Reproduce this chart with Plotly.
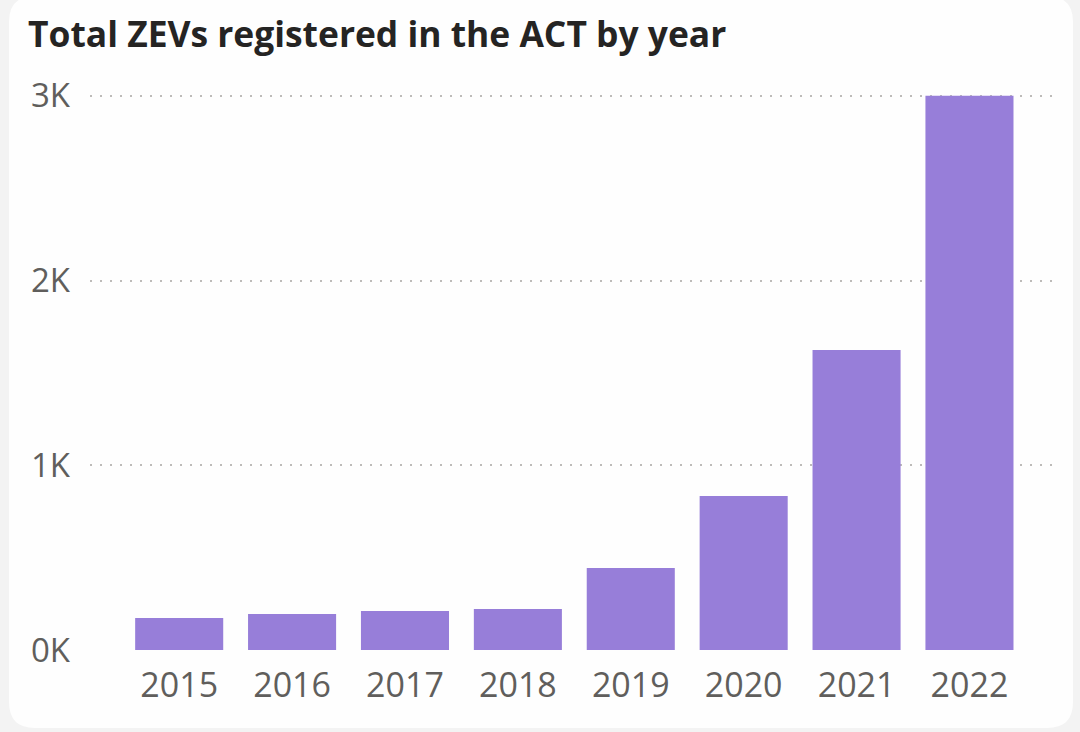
import plotly.graph_objects as go

years = ["2015", "2016", "2017", "2018", "2019", "2020", "2021", "2022"]
zevs = [173, 195, 211, 222, 444, 834, 1624, 3000]
y_ticks = [0, 1000, 2000, 3000]
y_tick_labels = ["0K", "1K", "2K", "3K"]

W, H = 1080, 732
L, R, T, B = 90, 27, 94, 82
pw, ph = W - L - R, H - T - B

def px(x):
    return (x - L) / pw

def py(y):
    return (H - B - y) / ph

def card_path(x0, y0, x1, y1, r):
    pts = []
    pts.append(f"M {px(x0 + r)} {py(y0)}")
    pts.append(f"L {px(x1 - r)} {py(y0)}")
    pts.append(f"Q {px(x1)} {py(y0)} {px(x1)} {py(y0 + r)}")
    pts.append(f"L {px(x1)} {py(y1 - r)}")
    pts.append(f"Q {px(x1)} {py(y1)} {px(x1 - r)} {py(y1)}")
    pts.append(f"L {px(x0 + r)} {py(y1)}")
    pts.append(f"Q {px(x0)} {py(y1)} {px(x0)} {py(y1 - r)}")
    pts.append(f"L {px(x0)} {py(y0 + r)}")
    pts.append(f"Q {px(x0)} {py(y0)} {px(x0 + r)} {py(y0)}")
    pts.append("Z")
    return " ".join(pts)

fig = go.Figure(go.Bar(
    x=years, y=zevs,
    marker=dict(color="#977ED9", line=dict(width=0)),
    width=0.78,
    hoverinfo="x+y",
))

font_family = "Open Sans, Noto Sans, sans-serif"

fig.update_layout(
    width=W, height=H,
    margin=dict(l=L, r=R, t=T, b=B),
    paper_bgcolor="#F3F3F3",
    plot_bgcolor="rgba(0,0,0,0)",
    showlegend=False,
    font=dict(family=font_family, color="#605E5C"),
    title=dict(
        text="<b>Total ZEVs registered in the ACT by year</b>",
        x=28 / W, xanchor="left",
        y=1 - 35 / H, yanchor="middle",
        font=dict(family=font_family, size=35.4, color="#252423"),
    ),
    shapes=[dict(
        type="path", xref="paper", yref="paper",
        path=card_path(9, -4, 1073, 728, 26),
        fillcolor="#FEFEFE", line=dict(width=0), layer="below",
    )],
    xaxis=dict(
        type="category",
        range=[-0.79, 7.74],
        showgrid=False, zeroline=False, showline=False,
        ticks="", ticklabelstandoff=12,
        tickfont=dict(size=34, color="#605E5C"),
        fixedrange=True,
    ),
    yaxis=dict(
        range=[0, 3010],
        tickvals=y_ticks, ticktext=y_tick_labels,
        showgrid=True, gridcolor="#BDBBB9", griddash="1.5px,8.5px", gridwidth=1.5,
        zeroline=False, showline=False,
        ticks="", ticklabelstandoff=19,
        tickfont=dict(size=33, color="#605E5C"),
        fixedrange=True,
    ),
)

fig.write_html("out.html", config={"displayModeBar": False},
               post_script="document.body.style.margin='0px';")
